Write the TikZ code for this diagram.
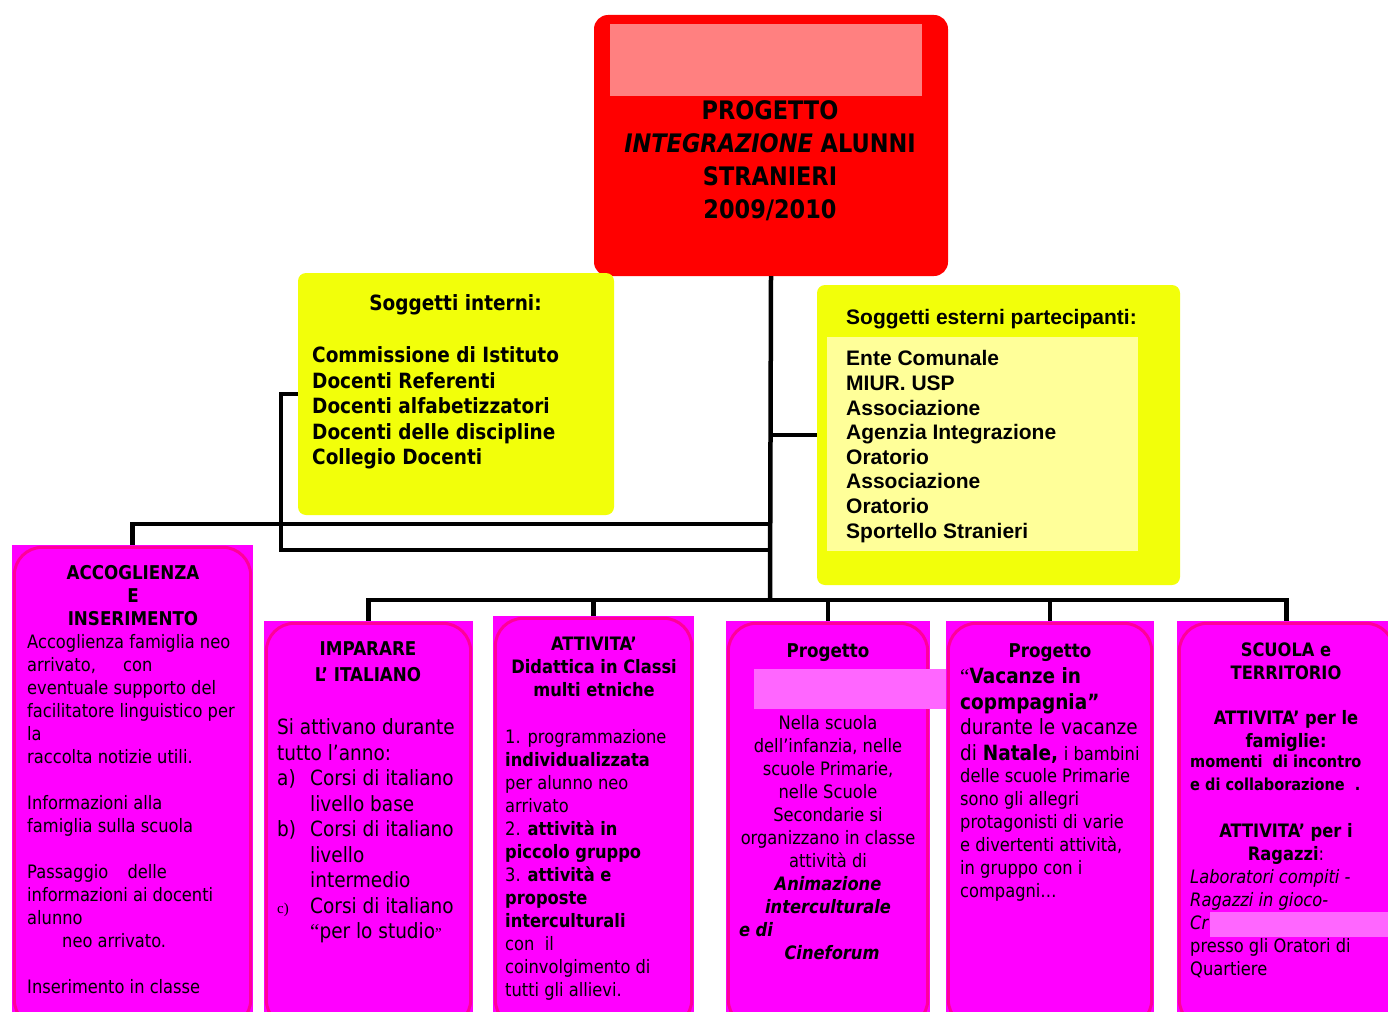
\documentclass[tikz,border=0pt]{standalone}
\usepackage{fontspec}
\setmainfont{DejaVu Sans}[FakeStretch=0.88]
\newfontfamily\arialfont{Liberation Sans}
\newfontfamily\seriffont{Liberation Serif}
\definecolor{titlered}{RGB}{255,0,0}
\definecolor{titlepatch}{RGB}{255,128,128}
\definecolor{subjyellow}{RGB}{242,255,10}
\definecolor{subjlight}{RGB}{255,255,153}
\definecolor{actfill}{RGB}{255,0,255}
\definecolor{actframe}{RGB}{255,0,153}
\definecolor{actpatch}{RGB}{255,102,255}
\tikzset{
  redbox/.style={fill=titlered, rounded corners=14pt, inner sep=0pt},
  yelbox/.style={fill=subjyellow, rounded corners=8pt, inner sep=0pt},
  lightbox/.style={fill=subjlight, inner sep=0pt},
  magbox/.style={fill=actfill, inner sep=0pt},
  magframe/.style={draw=actframe, line width=3pt, rounded corners=28pt},
  link/.style={draw=black, line width=4.5pt},
  txt/.style={inner sep=0pt, align=left, anchor=north west},
  ctxt/.style={inner sep=0pt, align=center, anchor=north},
  body/.style={font=\fontsize{18.5}{23}\selectfont},
  bigbody/.style={font=\fontsize{21}{25.5}\selectfont},
  head/.style={font=\bfseries\fontsize{18.5}{23}\selectfont},
}
\begin{document}
\begin{tikzpicture}[x=1pt,y=-1pt]
\useasboundingbox (0,0) rectangle (1388,1011);
\clip (0,0) rectangle (1388,1011);

\node[redbox, minimum width=354pt, minimum height=261pt] (title) at (771,145.5) {};
\fill[titlepatch] (610,24) rectangle (922,96);
\node[ctxt, font=\bfseries\fontsize{25.5}{33}\selectfont] (titletxt) at (770,100.6)
  {PROGETTO\\\textit{INTEGRAZIONE} ALUNNI\\STRANIERI\\2009/2010};

\node[yelbox, minimum width=316pt, minimum height=242pt] (int) at (456,394) {};
\node[inner sep=0pt, anchor=base, font=\bfseries\fontsize{21}{25.5}\selectfont] (inthead) at (455.5,310) {Soggetti interni:};
\node[txt, font=\bfseries\fontsize{21}{25.5}\selectfont] (intlist) at (312,346.5)
  {Commissione di Istituto\\Docenti Referenti\\Docenti alfabetizzatori\\Docenti delle discipline\\Collegio Docenti};

\node[yelbox, minimum width=363pt, minimum height=300pt] (ext) at (998.5,435) {};
\node[lightbox, minimum width=311pt, minimum height=214pt] (extin) at (982.5,444) {};
\node[inner sep=0pt, anchor=base west, font=\arialfont\bfseries\fontsize{21}{24.6}\selectfont] (exthead) at (846,324) {Soggetti esterni partecipanti:};
\node[txt, font=\arialfont\bfseries\fontsize{21}{24.6}\selectfont] (extlist) at (846,350.5)
  {Ente Comunale\\MIUR. USP\\Associazione\\Agenzia Integrazione\\Oratorio\\Associazione\\Oratorio\\Sportello Stranieri};

\node[magbox, minimum width=241pt, minimum height=485pt] (acc) at (132.5,787.5) {};
\node[magbox, minimum width=209pt, minimum height=409pt] (ita) at (368.5,825.5) {};
\node[magbox, minimum width=201pt, minimum height=414pt] (att) at (593.5,823) {};
\node[magbox, minimum width=204pt, minimum height=409pt] (prog) at (828,825.5) {};
\node[magbox, minimum width=208pt, minimum height=409pt] (vac) at (1050,825.5) {};
\node[magbox, minimum width=219pt, minimum height=409pt] (scu) at (1286.5,825.5) {};
\foreach \b in {acc,ita,att,prog,vac,scu}
  \draw[magframe] ([shift={(2.5,2.5)}]\b.north west) rectangle ([shift={(-2.5,-2.5)}]\b.south east);

\node[ctxt, head, font=\bfseries\fontsize{19}{23}\selectfont] (acchead) at (133,565.5) {ACCOGLIENZA\\E\\INSERIMENTO};
\node[txt, body] (acctxt) at (27,634.5)
  {Accoglienza famiglia neo\\arrivato,\hspace{22pt} con\\eventuale supporto del\\facilitatore linguistico per\\la\\raccolta notizie utili.\\[23pt]
   Informazioni alla\\famiglia sulla scuola\\[23pt]
   Passaggio\hspace{14pt} delle\\informazioni ai docenti\\alunno\\\hspace*{35pt}neo arrivato.\\[23pt]
   Inserimento in classe};

\node[ctxt, font=\bfseries\fontsize{19}{26}\selectfont] (itahead) at (368,641) {IMPARARE\\L’ ITALIANO};
\node[txt, bigbody] (itatxt) at (277,718.5)
  {Si attivano durante\\tutto l’anno:\\
   \makebox[33pt][l]{a)}Corsi di italiano\\\hspace*{33pt}livello base\\
   \makebox[33pt][l]{b)}Corsi di italiano\\\hspace*{33pt}livello\\\hspace*{33pt}intermedio\\
   \makebox[33pt][l]{\seriffont\fontsize{15}{20}\selectfont c)}Corsi di italiano\\\hspace*{33pt}{\seriffont “}per lo studio{\seriffont\fontsize{15}{20}\selectfont ”}};

\node[ctxt, head] (atthead) at (594,636.5) {ATTIVITA’\\Didattica in Classi\\multi etniche};
\node[txt, body] (atttxt) at (505,729.5)
  {1. programmazione\\\textbf{individualizzata}\\per alunno neo\\arrivato\\2. \textbf{attività in}\\\textbf{piccolo gruppo}\\3. \textbf{attività e}\\\textbf{proposte}\\\textbf{interculturali}\\con\ \ il\\coinvolgimento di\\tutti gli allievi.};

\node[inner sep=0pt, anchor=base, font=\bfseries\fontsize{19}{23}\selectfont] (proghead) at (828,657.5) {Progetto};
\fill[actpatch] (754,669) rectangle (946,709);
\node[ctxt, body] (progtxt) at (828,715.5)
  {Nella scuola\\dell’infanzia, nelle\\scuole Primarie,\\nelle Scuole\\Secondarie si\\organizzano in classe\\attività di\\
   \textbf{\textit{Animazione}}\\\textbf{\textit{interculturale}}\\\makebox[178pt][l]{\textbf{\textit{e di}}}\\\hspace*{8pt}\textbf{\textit{Cineforum}}};

\node[inner sep=0pt, anchor=base, font=\bfseries\fontsize{19}{23}\selectfont] (vachead) at (1050,657.5) {Progetto};
\node[txt, bigbody] (vactop) at (960,667.5)
  {{\seriffont “}\textbf{Vacanze in}\\\textbf{copmpagnia”}\\durante le vacanze\\di \textbf{Natale,} {\fontsize{18.5}{23}\selectfont i bambini}};
\node[txt, body] (vactxt) at (960,768.5)
  {delle scuole Primarie\\sono gli allegri\\protagonisti di varie\\e divertenti attività,\\in gruppo con i\\compagni…};

\node[ctxt, head] (scuhead) at (1286,642.5) {SCUOLA e\\TERRITORIO};
\node[ctxt, head] (scufam) at (1286,710.5) {ATTIVITA’ per le\\famiglie:};
\node[txt, font=\bfseries\fontsize{16.5}{23}\selectfont] (scumom) at (1190,754.5) {momenti\ \ di incontro\\e di collaborazione\ \ .};
\node[ctxt, head] (scurag) at (1286,823.5) {ATTIVITA’ per i\\Ragazzi\mdseries:};
\node[txt, body] (scutxt) at (1190,869.5)
  {\textit{Laboratori compiti -}\\\textit{Ragazzi in gioco-}\\\textit{Cr}\\presso gli Oratori di\\Quartiere};
\fill[actpatch] (1210,912) rectangle (1396,937);

\coordinate (bus) at (770,600);
\draw[link] (title.south) -- (bus);
\draw[link] (title.south |- ext.west) -- (ext.west);
\draw[link] (int.west) -| (281,550) -- (title.south |- 0,550);
\draw[link] (acc.north) |- (title.south |- 0,524);
\foreach \b in {ita,att,prog,vac,scu}
  \draw[link] (\b.north) |- (bus);
\end{tikzpicture}
\end{document}
